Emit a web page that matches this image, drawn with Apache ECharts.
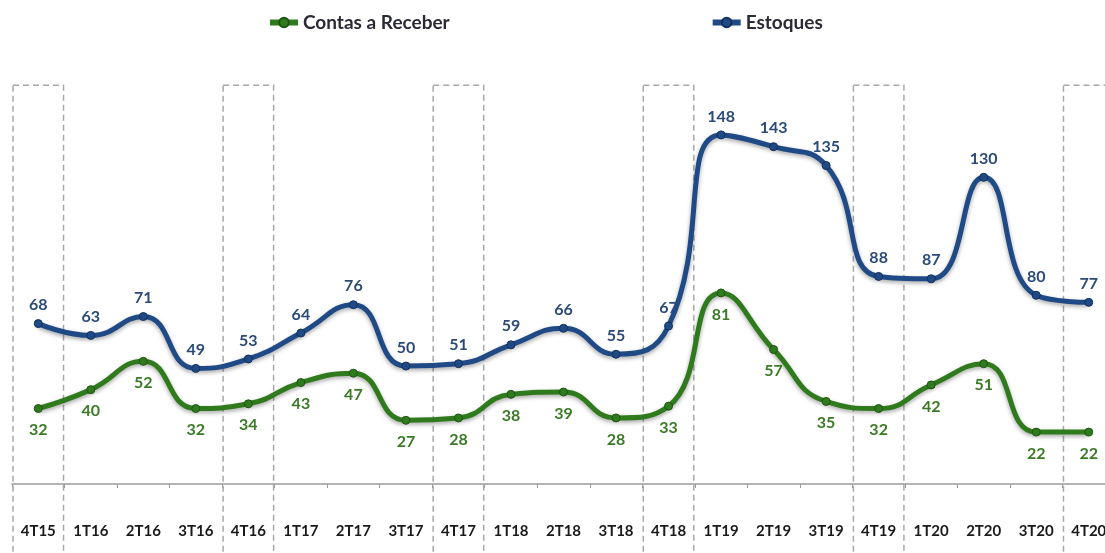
<!DOCTYPE html>
<html>
<head>
<meta charset="utf-8">
<script src="https://cdn.jsdelivr.net/npm/echarts@6/dist/echarts.min.js"></script>
<style>
  html, body { margin: 0; padding: 0; background: #fff; }
  #main { width: 1105px; height: 553px; }
</style>
</head>
<body>
<div id="main"></div>
<script>
var categories = ['4T15', '1T16', '2T16', '3T16', '4T16', '1T17', '2T17', '3T17', '4T17', '1T18', '2T18',
    '3T18', '4T18', '1T19', '2T19', '3T19', '4T19', '1T20', '2T20', '3T20', '4T20'];
var contasReceber = [32, 40, 52, 32, 34, 43, 47, 27, 28, 38, 39, 28, 33, 81, 57, 35, 32, 42, 51, 22, 22];
var estoques = [68, 63, 71, 49, 53, 64, 76, 50, 51, 59, 66, 55, 67, 148, 143, 135, 88, 87, 130, 80, 77];
// quarters framed by the dashed boxes
var boxed = ['4T15', '4T16', '4T17', '4T18', '4T19', '4T20'];
var boxTop = 169;

var chart = echarts.init(document.getElementById('main'));

var blue = '#1f4a86';
var green = '#2f7a1c';

chart.setOption({
    animation: false,
    legend: {
        top: 8,
        left: 262,
        itemGap: 260,
        itemWidth: 28,
        itemHeight: 12,
        lineStyle: { width: 6 },
        textStyle: {
            fontFamily: 'Lato',
            fontWeight: 'bold',
            fontSize: 19,
            color: '#2a2a36'
        },
        data: ['Contas a Receber', 'Estoques']
    },
    grid: {
        left: 12,
        top: 83,
        width: 1103,
        height: 401,
        outerBoundsMode: 'none',
        containLabel: false
    },
    xAxis: {
        type: 'category',
        data: categories,
        boundaryGap: true,
        axisLine: { lineStyle: { color: '#9a9a9a', width: 1.5 } },
        axisTick: { show: true, length: 4, lineStyle: { color: '#9a9a9a' } },
        axisLabel: {
            margin: 40,
            interval: 0,
            fontFamily: 'Lato',
            fontWeight: 'bold',
            fontSize: 15,
            color: '#1a1a1a'
        }
    },
    yAxis: {
        type: 'value',
        min: 0,
        max: 170,
        show: false,
        splitLine: { show: false }
    },
    series: [{
        type: 'custom',
        silent: true,
        clip: false,
        z: 1,
        data: boxed.map(function (c) { return [c, boxTop]; }),
        renderItem: function (params, api) {
            var p = api.coord([api.value(0), api.value(1)]);
            var w = api.size([1, 0])[0];
            return {
                type: 'rect',
                shape: { x: p[0] - w / 2 + 1, y: p[1], width: w - 2, height: api.getHeight() - p[1] + 5 },
                style: { fill: 'none', stroke: '#a8a8a8', lineWidth: 1.5, lineDash: [6, 4] }
            };
        }
    }, {
        name: 'Contas a Receber',
        type: 'line',
        data: contasReceber,
        smooth: 0.5,
        z: 3,
        symbol: 'circle',
        symbolSize: 8,
        itemStyle: { color: green, borderColor: '#1f5512', borderWidth: 1 },
        lineStyle: {
            color: green,
            width: 5,
            shadowColor: 'rgba(0,0,0,0.35)',
            shadowBlur: 4,
            shadowOffsetY: 2
        },
        label: {
            show: true,
            position: 'bottom',
            distance: 9,
            fontFamily: 'Lato',
            fontWeight: 'bold',
            fontSize: 16,
            color: '#3a7a26'
        }
    }, {
        name: 'Estoques',
        type: 'line',
        data: estoques,
        smooth: 0.5,
        z: 3,
        symbol: 'circle',
        symbolSize: 8,
        itemStyle: { color: blue, borderColor: '#13305a', borderWidth: 1 },
        lineStyle: {
            color: blue,
            width: 5,
            shadowColor: 'rgba(0,0,0,0.35)',
            shadowBlur: 4,
            shadowOffsetY: 2
        },
        label: {
            show: true,
            position: 'top',
            distance: 6,
            fontFamily: 'Lato',
            fontWeight: 'bold',
            fontSize: 16,
            color: '#2b4a78'
        }
    }]
});
</script>
</body>
</html>
